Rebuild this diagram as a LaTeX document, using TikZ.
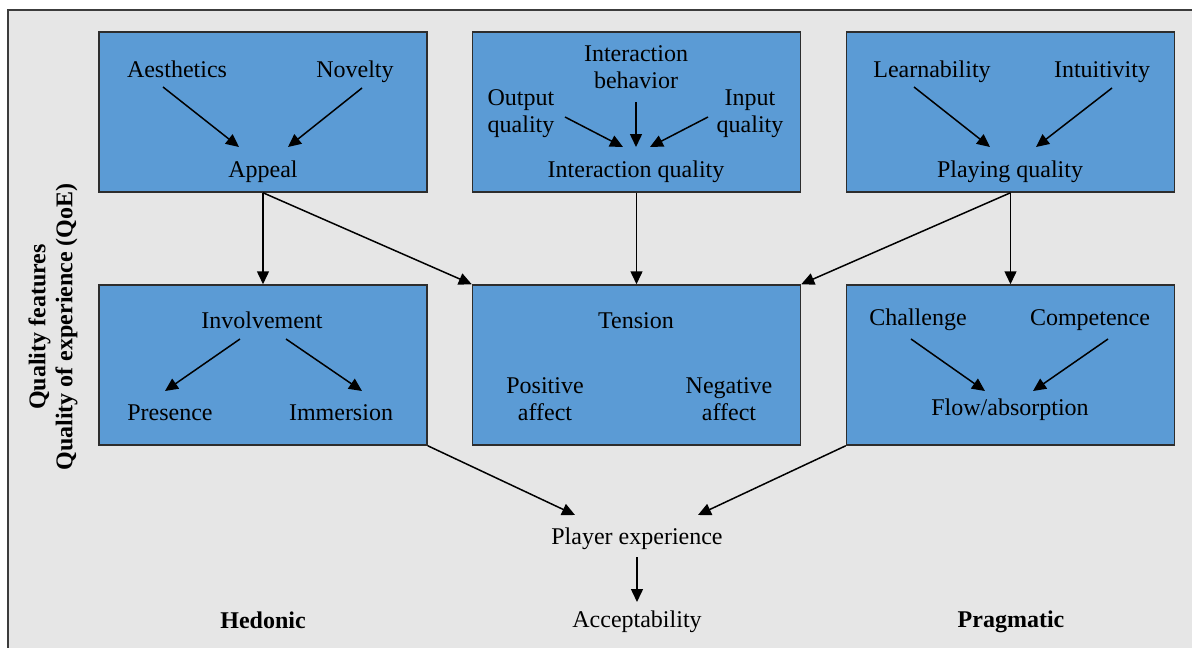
\documentclass[tikz,border=0pt]{standalone}
\usepackage{fontspec}
\setmainfont{Liberation Serif}
\usetikzlibrary{arrows.meta,calc}
\definecolor{bgray}{RGB}{230,230,230}
\definecolor{boxblue}{RGB}{91,155,213}
\definecolor{frameline}{RGB}{60,60,60}
\definecolor{boxline}{RGB}{45,45,45}
\tikzset{
  panel/.style={draw=boxline, line width=1.5pt, fill=boxblue, minimum width=328pt, minimum height=160pt, inner sep=0pt},
  txt/.style={inner sep=0pt, anchor=base, font=\fontsize{24}{27}\selectfont, align=center},
  btxt/.style={txt, font=\fontsize{24}{27}\selectfont\bfseries},
  conn/.style={draw=black, line width=1.5pt, -{Triangle[length=13pt,width=12pt]}}
}
\begin{document}
\begin{tikzpicture}[x=1pt,y=-1pt]
\useasboundingbox (0,0) rectangle (1192,648);
\fill[bgray] (8,10) rectangle (1192,648);
\draw[frameline, line width=2pt] (8,648) -- (8,10) -- (1192,10);

% panels
\node[panel] (b1) at (263,112) {};
\node[panel] (b2) at (636.5,112) {};
\node[panel] (b3) at (1010.5,112) {};
\node[panel] (b4) at (263,365) {};
\node[panel] (b5) at (636.5,365) {};
\node[panel] (b6) at (1010.5,365) {};

% box 1
\node[txt] (aes) at (177,77) {Aesthetics};
\node[txt] (nov) at (355,77) {Novelty};
\node[txt] (app) at (263,177) {Appeal};
% box 2
\node[txt] (beh) at (636,88) {Interaction\\behavior};
\node[txt] (outq) at (521,132) {Output\\quality};
\node[txt] (inq) at (750,132) {Input\\quality};
\node[txt] (iq) at (636,177) {Interaction quality};
% box 3
\node[txt] (lea) at (932,77) {Learnability};
\node[txt] (int) at (1102,77) {Intuitivity};
\node[txt] (pq) at (1010,177) {Playing quality};
% box 4
\node[txt] (inv) at (262,328) {Involvement};
\node[txt] (pre) at (170,420) {Presence};
\node[txt] (imm) at (341,420) {Immersion};
% box 5
\node[txt] (ten) at (636,328) {Tension};
\node[txt] (pos) at (545,420) {Positive\\affect};
\node[txt] (neg) at (729,420) {Negative\\affect};
% box 6
\node[txt] (cha) at (918,325) {Challenge};
\node[txt] (com) at (1090,325) {Competence};
\node[txt] (flo) at (1010,415) {Flow/absorption};
% bottom
\node[txt] (px) at (637,544) {Player experience};
\node[txt] (acc) at (637,627) {Acceptability};
\node[btxt] (hed) at (263,628) {Hedonic};
\node[btxt] (pra) at (1011,627) {Pragmatic};
\node[btxt, anchor=center, rotate=90] (qual) at (53,327) {Quality features\\Quality of experience (QoE)};

% arrows inside boxes
\draw[conn] ($(aes.base)+(-14,10)$) -- ($(app.base)+(-24,-30)$);
\draw[conn] ($(nov.base)+(7,11)$) -- ($(app.base)+(25,-30)$);
\draw[conn] ($(outq.base)+(44,-15)$) -- ($(iq.base)+(-13,-30)$);
\draw[conn] ($(beh.base)+(0,14)$) -- ($(iq.base)+(0,-30)$);
\draw[conn] ($(inq.base)+(-42,-15)$) -- ($(iq.base)+(14,-30)$);
\draw[conn] ($(lea.base)+(-18,10)$) -- ($(pq.base)+(-20,-30)$);
\draw[conn] ($(int.base)+(10,11)$) -- ($(pq.base)+(26,-30)$);
\draw[conn] ($(inv.base)+(-22,11)$) -- ($(pre.base)+(-5,-29)$);
\draw[conn] ($(inv.base)+(24,11)$) -- ($(imm.base)+(21,-29)$);
\draw[conn] ($(cha.base)+(-7,14)$) -- ($(flo.base)+(-25,-24)$);
\draw[conn] ($(com.base)+(18,14)$) -- ($(flo.base)+(23,-24)$);

% arrows between boxes
\draw[conn] (b1.south) -- (b4.north);
\draw[conn] (b1.south) -- (b5.north west);
\draw[conn] (b2.south) -- (b5.north);
\draw[conn] (b3.south) -- (b5.north east);
\draw[conn] (b3.south) -- (b6.north);
\draw[conn] (b4.south east) -- ($(px.base)+(-62,-29)$);
\draw[conn] (b6.south west) -- ($(px.base)+(61,-29)$);
\draw[conn] ($(px.base)+(0,13)$) -- ($(acc.base)+(0,-25)$);
\end{tikzpicture}
\end{document}
